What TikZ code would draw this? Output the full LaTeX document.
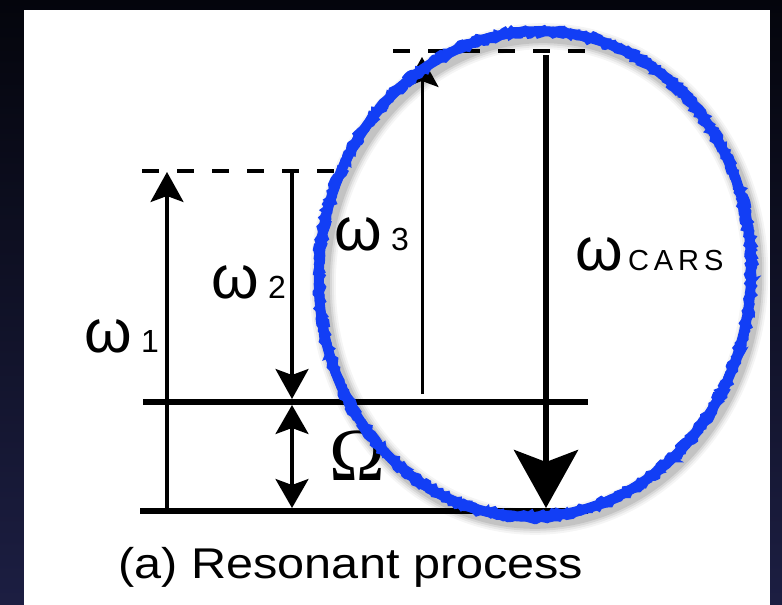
\documentclass[tikz,border=0pt]{standalone}
\usepackage{fontspec}
\setmainfont{Liberation Sans}
\newfontfamily\omegafont{Liberation Serif}
\usetikzlibrary{arrows.meta,decorations.pathmorphing}

\definecolor{bgdark}{RGB}{4,5,12}
\definecolor{bgnavy}{RGB}{28,30,66}
\definecolor{penblue}{RGB}{18,62,245}
\newcommand\idxfont{\fontsize{32}{34}\selectfont}

\begin{document}
\begin{tikzpicture}[x=1pt, y=-1pt, thick]
  \tikzset{
    level/.style={line width=6.5pt},
    virtual/.style={line width=4pt, dash pattern=on 17pt off 18pt},
    beam/.style={line width=3.2pt, -{Stealth[length=30pt,width=33pt,inset=6pt]}},
    twoway/.style={line width=3.2pt, {Stealth[length=29pt,width=33pt,inset=6pt]}-{Stealth[length=29pt,width=33pt,inset=6pt]}},
    cars/.style={line width=6pt, -{Stealth[length=58pt,width=64pt,inset=12pt]}},
    freq/.style={inner sep=0pt, anchor=base west, font=\fontsize{61}{63}\selectfont},
  }
  \useasboundingbox (0,0) rectangle (782,605);

  % Background and white panel
  \shade[top color=bgdark, bottom color=bgnavy] (0,0) rectangle (782,605);
  \fill[white] (24,10) rectangle (770,605);

  % Energy levels
  \coordinate (gndL) at (140,511);
  \coordinate (gndR) at (588,511);
  \coordinate (vibL) at (143,402);
  \coordinate (vibR) at (588,402);
  \draw[level] (gndL) -- (gndR);
  \draw[level] (vibL) -- (vibR);

  % Virtual levels
  \coordinate (virtAL) at (142,171);
  \coordinate (virtAR) at (335,171);
  \coordinate (virtBL) at (393,51);
  \coordinate (virtBR) at (590,51);
  \draw[virtual] (virtAL) -- (virtAR);
  \draw[virtual] (virtBL) -- (virtBR);

  % Pump
  \coordinate (pumpS) at (167,509);
  \coordinate (pumpE) at (167,172);
  \draw[beam] (pumpS) -- (pumpE);

  % Stokes
  \coordinate (stokesS) at (292,173);
  \coordinate (stokesE) at (292,399);
  \draw[beam] (stokesS) -- (stokesE);

  % Raman shift
  \coordinate (shiftT) at (292,405);
  \coordinate (shiftB) at (292,508);
  \draw[twoway] (shiftT) -- (shiftB);

  % Probe
  \coordinate (probeS) at (422,394);
  \coordinate (probeE) at (422,57);
  \draw[beam, line width=3pt] (probeS) -- (probeE);

  % Anti-Stokes signal
  \coordinate (carsS) at (546,55);
  \coordinate (carsE) at (546,508);
  \draw[cars] (carsS) -- (carsE);

  % Labels
  \node[freq] (w1) at (84,352) {ω\hspace{9pt}{\idxfont 1}};
  \node[freq] (w2) at (211,298) {ω\hspace{9pt}{\idxfont 2}};
  \node[freq] (w3) at (334,250) {ω\hspace{9pt}{\idxfont 3}};
  \node[freq] (w4) at (575,270) {ω\hspace{5pt}{\fontsize{29}{31}\selectfont\addfontfeature{LetterSpace=17}CARS}};
  \node[inner sep=0pt, anchor=base west, font=\omegafont\fontsize{75}{78}\selectfont] (shift) at (329,480) {Ω};

  % Caption
  \node[inner sep=0pt, anchor=base, xscale=1.13, font=\fontsize{43}{48}\selectfont] (cap) at (351,578) {(a) Resonant process};

  % Hand drawn ellipse with soft shadow
  \foreach \w/\o in {26/0.04,22/0.05,18/0.07,14/0.09}
    \draw[black, opacity=\o, line width=\w pt] (539,279) ellipse [x radius=216, y radius=243, rotate=-5];
  \pgfmathsetseed{7}
  \draw[penblue, line width=10pt] (535,274) ellipse [x radius=216, y radius=243, rotate=-5];
  \foreach \dr in {-4,4}
    \draw[penblue, line width=3pt, decorate, decoration={random steps, segment length=3pt, amplitude=2pt}]
      (535,274) ellipse [x radius=216+\dr, y radius=243+\dr, rotate=-5];
\end{tikzpicture}
\end{document}
